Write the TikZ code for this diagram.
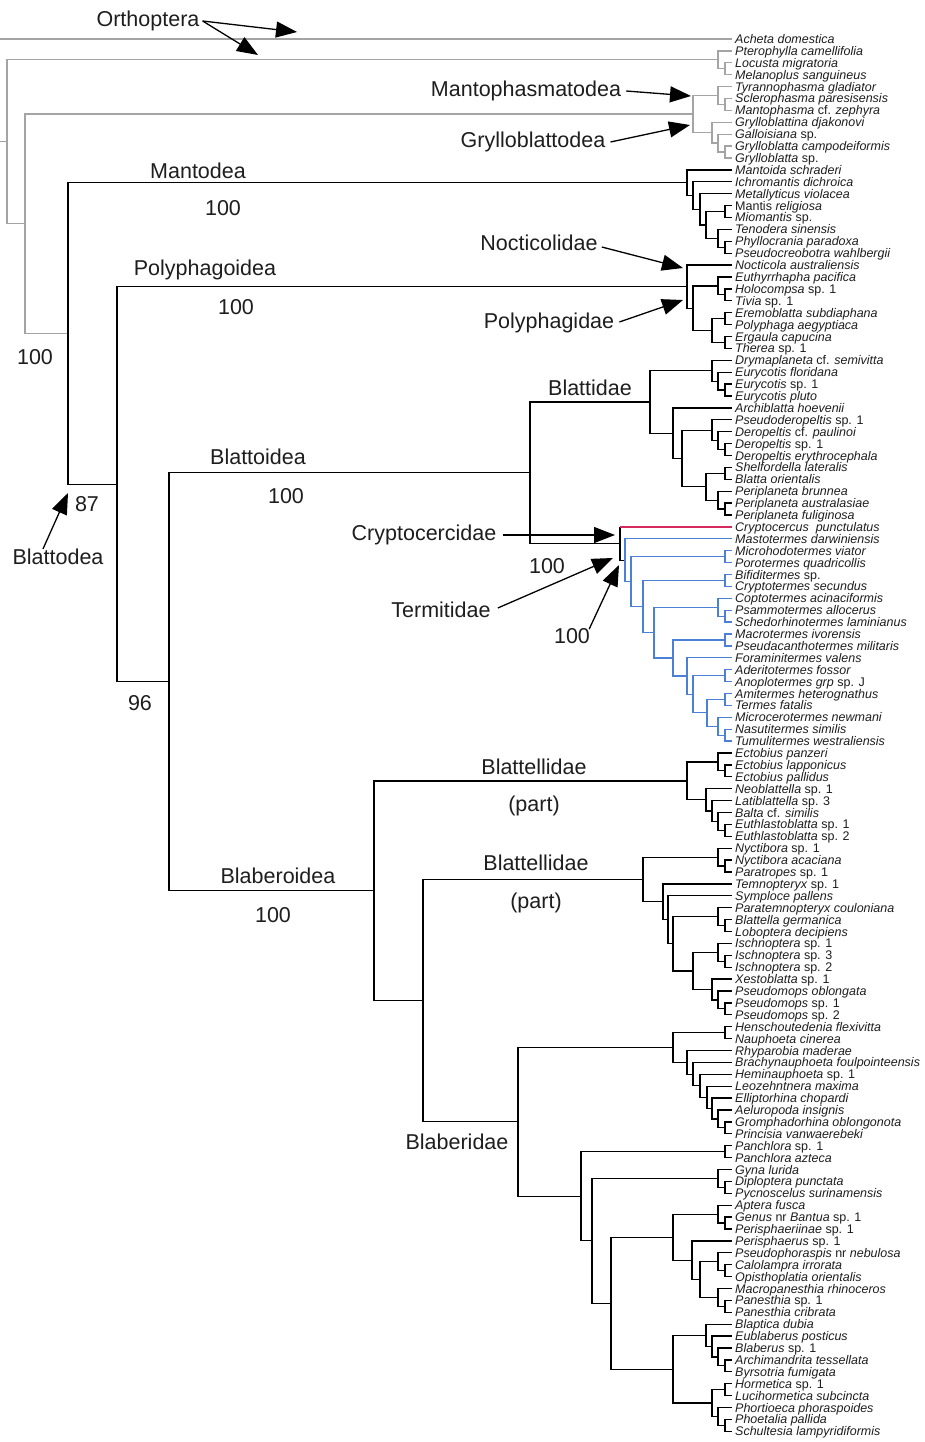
\documentclass[tikz,border=0pt]{standalone}
\usepackage{fontspec}
\setmainfont{Liberation Sans}
\usetikzlibrary{arrows.meta}
\definecolor{gbr}{HTML}{A4A4A4}
\definecolor{rbr}{HTML}{D62A5C}
\definecolor{bbr}{HTML}{4A80D6}
\definecolor{ink}{HTML}{1E1E1E}
\newcommand\cl[5]{\draw (#2,#3) -| (#1,#5) -- (#4,#5);}
\newcommand\tip[2]{\node[tip] (t#1) at (735,#1) {#2};}
\begin{document}
\begin{tikzpicture}[x=1pt,y=-1pt,
  tip/.style={anchor=base west, inner sep=0pt, yshift=-4.5pt, font=\fontsize{12.5}{14}\selectfont\itshape, text=ink},
  lab/.style={font=\fontsize{21.5}{24}\selectfont, text=ink, inner sep=2pt},
  arr/.style={-{Triangle[length=21pt,width=16pt]}, line width=1.3pt, black},
  br/.style={line width=1.25pt, line join=miter}]
\fill[white] (0,0) rectangle (924,1442);
\useasboundingbox (0,0) rectangle (924,1442);

\begin{scope}[y=-11.9pt, yshift=-27.1pt]
% ---------- grey: Orthoptera, Mantophasmatodea, Grylloblattodea ----------
\begin{scope}[br, gbr]
\draw (0,1) -- (732,1);
\cl{725}{732}{3}{732}{4}
\cl{718}{732}{2}{725}{3.5}
\cl{725}{732}{6}{732}{7}
\cl{718}{732}{5}{725}{6.5}
\cl{725}{732}{10}{732}{11}
\cl{718}{732}{9}{725}{10.5}
\cl{712}{732}{8}{718}{9.75}
\cl{693}{718}{5.75}{712}{8.875}
\cl{25}{693}{7.3125}{68}{25.7455}
\cl{7}{718}{2.75}{25}{16.529}
\draw (0,9.6395) -- (7,9.6395);
\end{scope}
% ---------- black ----------
\begin{scope}[br, black]
% Mantodea
\cl{725}{732}{15}{732}{16}
\cl{725}{732}{18}{732}{19}
\cl{718}{732}{17}{725}{18.5}
\cl{706}{725}{15.5}{718}{17.75}
\cl{700}{732}{14}{706}{16.625}
\cl{693}{732}{13}{700}{15.3125}
\cl{687}{732}{12}{693}{14.156}
% Polyphagoidea
\cl{725}{732}{22}{732}{23}
\cl{718}{732}{21}{725}{22.5}
\cl{725}{732}{24}{732}{25}
\cl{725}{732}{26}{732}{27}
\cl{712}{725}{24.5}{725}{26.5}
\cl{693}{718}{21.75}{712}{25.5}
\cl{687}{732}{20}{693}{23.625}
% Blattidae
\cl{725}{732}{30}{732}{31}
\cl{718}{732}{29}{725}{30.5}
\cl{712}{732}{28}{718}{29.75}
\cl{725}{732}{35}{732}{36}
\cl{718}{732}{34}{725}{35.5}
\cl{712}{732}{33}{718}{34.75}
\cl{725}{732}{37}{732}{38}
\cl{725}{732}{40}{732}{41}
\cl{718}{732}{39}{725}{40.5}
\cl{706}{725}{37.5}{718}{39.75}
\cl{682}{712}{33.875}{706}{38.625}
\cl{673}{732}{32}{682}{36.25}
\cl{650}{712}{28.875}{673}{34.125}
% Cryptocercus + termites node
\draw (620,42) -- (620,44.7979) -- (625,44.7979);
\cl{530}{650}{31.5}{620}{43.399}
% Blattellidae (part) 1
\cl{725}{732}{62}{732}{63}
\cl{718}{732}{61}{725}{62.5}
\cl{725}{732}{67}{732}{68}
\cl{718}{732}{66}{725}{67.5}
\cl{712}{732}{65}{718}{66.75}
\cl{706}{732}{64}{712}{65.875}
\cl{687}{718}{61.75}{706}{64.9375}
% Blattellidae (part) 2
\cl{725}{732}{70}{732}{71}
\cl{718}{732}{69}{725}{70.5}
\cl{725}{732}{75}{732}{76}
\cl{718}{732}{74}{725}{75.5}
\cl{725}{732}{78}{732}{79}
\cl{718}{732}{77}{725}{78.5}
\cl{725}{732}{82}{732}{83}
\cl{718}{732}{81}{725}{82.5}
\cl{712}{732}{80}{718}{81.75}
\cl{693}{718}{77.75}{712}{80.875}
\cl{673}{718}{74.75}{693}{79.3125}
\cl{668}{732}{73}{673}{77.03125}
\cl{663}{732}{72}{668}{75.015625}
\cl{643}{718}{69.75}{663}{73.5078}
% Blaberidae
\cl{725}{732}{84}{732}{85}
\cl{725}{732}{92}{732}{93}
\cl{718}{732}{91}{725}{92.5}
\cl{712}{732}{90}{718}{91.75}
\cl{707}{732}{89}{712}{90.875}
\cl{700}{732}{88}{707}{89.9375}
\cl{693}{732}{87}{700}{88.96875}
\cl{687}{732}{86}{693}{87.984375}
\cl{673}{725}{84.5}{687}{86.9921875}
\cl{725}{732}{94}{732}{95}
\cl{725}{732}{97}{732}{98}
\cl{718}{732}{96}{725}{97.5}
\cl{725}{732}{100}{732}{101}
\cl{718}{732}{99}{725}{100.5}
\cl{725}{732}{104}{732}{105}
\cl{718}{732}{103}{725}{104.5}
\cl{725}{732}{107}{732}{108}
\cl{718}{732}{106}{725}{107.5}
\cl{700}{718}{103.75}{718}{106.75}
\cl{692}{732}{102}{700}{105.25}
\cl{673}{718}{99.75}{692}{103.625}
\cl{725}{732}{112}{732}{113}
\cl{718}{732}{111}{725}{112.5}
\cl{712}{732}{110}{718}{111.75}
\cl{706}{732}{109}{712}{110.875}
\cl{725}{732}{114}{732}{115}
\cl{725}{732}{117}{732}{118}
\cl{718}{732}{116}{725}{117.5}
\cl{712}{725}{114.5}{718}{116.75}
\cl{673}{706}{109.9375}{712}{115.625}
\cl{611}{673}{101.6875}{673}{112.78125}
\cl{592}{718}{96.75}{611}{107.234375}
\cl{581}{725}{94.5}{592}{101.9921875}
\cl{518}{673}{85.74609}{581}{98.24609}
\cl{423}{643}{71.6289}{518}{91.99609}
\cl{374}{687}{63.34375}{423}{81.8125}
% backbone
\cl{169}{530}{37.4495}{374}{72.578}
\cl{117}{687}{21.8125}{169}{55.0138}
\cl{68}{687}{13.078}{117}{38.413}
\end{scope}
% ---------- Cryptocercus (red) ----------
\draw[br, rbr] (620,42) -- (732,42);
% ---------- termites (blue) ----------
\begin{scope}[br, bbr]
\cl{725}{732}{44}{732}{45}
\cl{725}{732}{46}{732}{47}
\cl{725}{732}{49}{732}{50}
\cl{718}{732}{48}{725}{49.5}
\cl{725}{732}{51}{732}{52}
\cl{725}{732}{54}{732}{55}
\cl{725}{732}{56}{732}{57}
\cl{725}{732}{59}{732}{60}
\cl{718}{732}{58}{725}{59.5}
\cl{707}{725}{56.5}{718}{58.75}
\cl{693}{725}{54.5}{707}{57.625}
\cl{687}{732}{53}{693}{56.0625}
\cl{673}{725}{51.5}{687}{54.53125}
\cl{654}{718}{48.75}{673}{53.015625}
\cl{643}{725}{46.5}{654}{50.8828}
\cl{631}{725}{44.5}{643}{48.6914}
\cl{625}{732}{43}{631}{46.5957}
\end{scope}
% ---------- tip labels ----------
\tip{1}{Acheta domestica}
\tip{2}{Pterophylla camellifolia}
\tip{3}{Locusta migratoria}
\tip{4}{Melanoplus sanguineus}
\tip{5}{Tyrannophasma gladiator}
\tip{6}{Sclerophasma paresisensis}
\tip{7}{Mantophasma \textup{cf.} zephyra}
\tip{8}{Grylloblattina djakonovi}
\tip{9}{Galloisiana \textup{sp.}}
\tip{10}{Grylloblatta campodeiformis}
\tip{11}{Grylloblatta \textup{sp.}}
\tip{12}{Mantoida schraderi}
\tip{13}{Ichromantis dichroica}
\tip{14}{Metallyticus violacea}
\tip{15}{\textup{Mantis} religiosa}
\tip{16}{Miomantis \textup{sp.}}
\tip{17}{Tenodera sinensis}
\tip{18}{Phyllocrania paradoxa}
\tip{19}{Pseudocreobotra wahlbergii}
\tip{20}{Nocticola australiensis}
\tip{21}{Euthyrrhapha pacifica}
\tip{22}{Holocompsa \textup{sp. 1}}
\tip{23}{Tivia \textup{sp. 1}}
\tip{24}{Eremoblatta subdiaphana}
\tip{25}{Polyphaga aegyptiaca}
\tip{26}{Ergaula capucina}
\tip{27}{Therea \textup{sp. 1}}
\tip{28}{Drymaplaneta \textup{cf.} semivitta}
\tip{29}{Eurycotis floridana}
\tip{30}{Eurycotis \textup{sp. 1}}
\tip{31}{Eurycotis pluto}
\tip{32}{Archiblatta hoevenii}
\tip{33}{Pseudoderopeltis \textup{sp. 1}}
\tip{34}{Deropeltis \textup{cf.} paulinoi}
\tip{35}{Deropeltis \textup{sp. 1}}
\tip{36}{Deropeltis erythrocephala}
\tip{37}{Shelfordella lateralis}
\tip{38}{Blatta orientalis}
\tip{39}{Periplaneta brunnea}
\tip{40}{Periplaneta australasiae}
\tip{41}{Periplaneta fuliginosa}
\tip{42}{Cryptocercus\ \ punctulatus}
\tip{43}{Mastotermes darwiniensis}
\tip{44}{Microhodotermes viator}
\tip{45}{Porotermes quadricollis}
\tip{46}{Bifiditermes \textup{sp.}}
\tip{47}{Cryptotermes secundus}
\tip{48}{Coptotermes acinaciformis}
\tip{49}{Psammotermes allocerus}
\tip{50}{Schedorhinotermes laminianus}
\tip{51}{Macrotermes ivorensis}
\tip{52}{Pseudacanthotermes militaris}
\tip{53}{Foraminitermes valens}
\tip{54}{Aderitotermes fossor}
\tip{55}{Anoplotermes grp \textup{sp. J}}
\tip{56}{Amitermes heterognathus}
\tip{57}{Termes fatalis}
\tip{58}{Microcerotermes newmani}
\tip{59}{Nasutitermes similis}
\tip{60}{Tumulitermes westraliensis}
\tip{61}{Ectobius panzeri}
\tip{62}{Ectobius lapponicus}
\tip{63}{Ectobius pallidus}
\tip{64}{Neoblattella \textup{sp. 1}}
\tip{65}{Latiblattella \textup{sp. 3}}
\tip{66}{Balta \textup{cf.} similis}
\tip{67}{Euthlastoblatta \textup{sp. 1}}
\tip{68}{Euthlastoblatta \textup{sp. 2}}
\tip{69}{Nyctibora \textup{sp. 1}}
\tip{70}{Nyctibora acaciana}
\tip{71}{Paratropes \textup{sp. 1}}
\tip{72}{Temnopteryx \textup{sp. 1}}
\tip{73}{Symploce pallens}
\tip{74}{Paratemnopteryx couloniana}
\tip{75}{Blattella germanica}
\tip{76}{Loboptera decipiens}
\tip{77}{Ischnoptera \textup{sp. 1}}
\tip{78}{Ischnoptera \textup{sp. 3}}
\tip{79}{Ischnoptera \textup{sp. 2}}
\tip{80}{Xestoblatta \textup{sp. 1}}
\tip{81}{Pseudomops oblongata}
\tip{82}{Pseudomops \textup{sp. 1}}
\tip{83}{Pseudomops \textup{sp. 2}}
\tip{84}{Henschoutedenia flexivitta}
\tip{85}{Nauphoeta cinerea}
\tip{86}{Rhyparobia maderae}
\tip{87}{Brachynauphoeta foulpointeensis}
\tip{88}{Heminauphoeta \textup{sp. 1}}
\tip{89}{Leozehntnera maxima}
\tip{90}{Elliptorhina chopardi}
\tip{91}{Aeluropoda insignis}
\tip{92}{Gromphadorhina oblongonota}
\tip{93}{Princisia vanwaerebeki}
\tip{94}{Panchlora \textup{sp. 1}}
\tip{95}{Panchlora azteca}
\tip{96}{Gyna lurida}
\tip{97}{Diploptera punctata}
\tip{98}{Pycnoscelus surinamensis}
\tip{99}{Aptera fusca}
\tip{100}{Genus \textup{nr} Bantua \textup{sp. 1}}
\tip{101}{Perisphaeriinae \textup{sp. 1}}
\tip{102}{Perisphaerus \textup{sp. 1}}
\tip{103}{Pseudophoraspis \textup{nr} nebulosa}
\tip{104}{Calolampra irrorata}
\tip{105}{Opisthoplatia orientalis}
\tip{106}{Macropanesthia rhinoceros}
\tip{107}{Panesthia \textup{sp. 1}}
\tip{108}{Panesthia cribrata}
\tip{109}{Blaptica dubia}
\tip{110}{Eublaberus posticus}
\tip{111}{Blaberus \textup{sp. 1}}
\tip{112}{Archimandrita tessellata}
\tip{113}{Byrsotria fumigata}
\tip{114}{Hormetica \textup{sp. 1}}
\tip{115}{Lucihormetica subcincta}
\tip{116}{Phortioeca phoraspoides}
\tip{117}{Phoetalia pallida}
\tip{118}{Schultesia lampyridiformis}
\end{scope}

% ---------- clade labels ----------
\node[lab] (lOrth) at (148,21) {Orthoptera};
\node[lab] (lManto) at (526,91) {Mantophasmatodea};
\node[lab] (lGryl) at (533,142) {Grylloblattodea};
\node[lab] (lMantodea) at (198,171) {Mantodea};
\node[lab] (bMantodea) at (223,208) {100};
\node[lab] (lNoct) at (539,243) {Nocticolidae};
\node[lab] (lPolyo) at (205,270) {Polyphagoidea};
\node[lab] (bPolyo) at (236,307) {100};
\node[lab] (lPolyd) at (549,323) {Polyphagidae};
\node[lab] (bDicty) at (35,357) {100};
\node[lab] (lBlattid) at (590,388) {Blattidae};
\node[lab] (lBlattoi) at (258,457) {Blattoidea};
\node[lab] (bBlattoi) at (286,496) {100};
\node[lab] (b87) at (87,504) {87};
\node[lab] (lCrypt) at (424,535) {Cryptocercidae};
\node[lab] (lBlattodea) at (58,557) {Blattodea};
\node[lab] (bCT) at (547,566) {100};
\node[lab] (lTerm) at (441,610) {Termitidae};
\node[lab] (bTerm) at (572,636) {100};
\node[lab] (b96) at (140,703) {96};
\node[lab] (lBll1) at (534,767) {Blattellidae};
\node[lab] (pBll1) at (534,806) {(part)};
\node[lab] (lBll2) at (536,863) {Blattellidae};
\node[lab] (pBll2) at (536,903) {(part)};
\node[lab] (lBlabo) at (278,876) {Blaberoidea};
\node[lab] (bBlabo) at (273,915) {100};
\node[lab] (lBlabe) at (457,1142) {Blaberidae};

% ---------- arrows ----------
\coordinate (aO1) at (297,32);
\coordinate (aO2) at (258,55);
\coordinate (aMa) at (691,96);
\coordinate (aGr) at (690,125);
\coordinate (aNo) at (683,268);
\coordinate (aPo) at (683,300);
\coordinate (aCr) at (615,535);
\coordinate (aTe) at (613,558);
\coordinate (aTb) at (619,565);
\coordinate (aBd) at (68,493);
\draw[arr] ([xshift=1pt]lOrth.east) -- (aO1);
\draw[arr] ([xshift=1pt]lOrth.east) -- (aO2);
\draw[arr] ([xshift=3pt]lManto.east) -- (aMa);
\draw[arr] ([xshift=3pt]lGryl.east) -- (aGr);
\draw[arr] ([xshift=2pt,yshift=-4pt]lNoct.east) -- (aNo);
\draw[arr] ([xshift=3pt,yshift=1pt]lPolyd.east) -- (aPo);
\draw[arr] ([xshift=4pt]lCrypt.east) -- (aCr);
\draw[arr] ([xshift=5pt,yshift=2pt]lTerm.east) -- (aTe);
\draw[arr] ([xshift=-3pt,yshift=-3pt]bTerm.north east) -- (aTb);
\draw[arr] ([xshift=-15pt,yshift=-2pt]lBlattodea.north) -- (aBd);
\end{tikzpicture}
\end{document}
